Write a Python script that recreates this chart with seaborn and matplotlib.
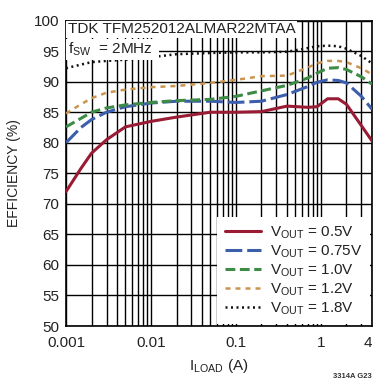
import numpy as np
import pandas as pd
import matplotlib
matplotlib.use("Agg")
import matplotlib.pyplot as plt
import seaborn as sns
from matplotlib.ticker import LogLocator, FixedLocator, FixedFormatter, NullFormatter

# ---- data ----
current = [0.001, 0.0015, 0.002, 0.003, 0.005, 0.01, 0.02, 0.05, 0.1, 0.2,
           0.4, 0.7, 0.9, 1.2, 1.6, 2.0, 3.0, 4.0]
eff_05 = [72.0, 75.8, 78.3, 80.5, 82.6, 83.5, 84.2, 85.0, 85.0, 85.1,
          86.0, 85.8, 85.9, 87.2, 87.2, 86.3, 82.8, 80.3]
eff_075 = [80.0, 82.5, 83.8, 85.0, 85.9, 86.5, 86.8, 86.8, 86.6, 86.8,
           87.9, 89.2, 89.9, 90.3, 90.2, 89.8, 87.6, 85.5]
eff_10 = [82.6, 84.0, 85.0, 85.7, 86.2, 86.6, 86.9, 87.1, 87.6, 88.5,
          89.4, 90.6, 91.4, 92.2, 92.3, 92.0, 90.8, 89.6]
eff_12 = [84.8, 86.3, 87.3, 88.2, 88.7, 89.1, 89.3, 89.8, 90.3, 90.9,
          91.0, 92.3, 93.0, 93.4, 93.4, 93.2, 92.2, 91.2]
eff_18 = [92.2, 92.8, 93.2, 93.4, 93.6, 94.0, 94.5, 94.7, 94.8, 94.8,
          94.9, 95.5, 95.8, 95.9, 95.8, 95.4, 94.2, 93.0]
series_labels = ["0.5V", "0.75V", "1.0V", "1.2V", "1.8V"]
x_ticks = [0.001, 0.01, 0.1, 1, 4]
x_ticklabels = ["0.001", "0.01", "0.1", "1", "4"]
y_ticks = [50, 55, 60, 65, 70, 75, 80, 85, 90, 95, 100]

sns.set_theme(style="white")
plt.rcParams['font.family'] = ['Liberation Sans Narrow', 'Liberation Sans', 'DejaVu Sans']
plt.rcParams['mathtext.fontset'] = 'custom'
plt.rcParams['mathtext.rm'] = 'Liberation Sans Narrow'
plt.rcParams['mathtext.it'] = 'Liberation Sans Narrow'

fig = plt.figure(figsize=(3.74, 3.85), dpi=100)
ax = fig.add_axes([66 / 374, 1 - 326 / 385, (372 - 66) / 374, (326 - 20.6) / 385])

colors = ["#9a1b34", "#3c5eab", "#3d8b46", "#c99550", "#111111"]
styles = ["-", (0, (5.5, 1.6)), (0, (3.2, 1.5)), (0, (2.0, 2.0)), (0, (0.8, 1.4))]
widths = [2.2, 2.2, 2.2, 1.8, 1.8]
all_eff = [eff_05, eff_075, eff_10, eff_12, eff_18]

for lab, vals, c, ls, lw in zip(series_labels, all_eff, colors, styles, widths):
    df = pd.DataFrame({"I": current, "eff": vals})
    sns.lineplot(data=df, x="I", y="eff", ax=ax, color=c, linestyle=ls, linewidth=lw,
                 label=r"V$_{\mathregular{OUT}}$ = " + lab, zorder=3)

ax.set_xscale("log")
ax.set_xlim(0.001, 4)
ax.set_ylim(50, 100)
ax.xaxis.set_major_locator(FixedLocator(x_ticks))
ax.xaxis.set_major_formatter(FixedFormatter(x_ticklabels))
ax.xaxis.set_minor_locator(LogLocator(base=10, subs=np.arange(2, 10)))
ax.xaxis.set_minor_formatter(NullFormatter())
ax.set_yticks(y_ticks)
ax.grid(True, which="both", axis="x", color="black", linewidth=1.0)
ax.grid(True, which="major", axis="y", color="black", linewidth=1.0)
ax.tick_params(axis="both", which="both", length=0, labelsize=11, colors="#222222")
ax.tick_params(axis="x", pad=7)
ax.tick_params(axis="y", pad=5)
for s in ax.spines.values():
    s.set_color("black")
    s.set_linewidth(1.2)

last_tick = ax.xaxis.get_major_ticks()[-1]
last_tick.label1.set_horizontalalignment("right")

ax.set_xlabel(r"I$_{\mathregular{LOAD}}$ (A)", fontsize=11, color="#222222", labelpad=5)
ax.set_ylabel("EFFICIENCY (%)", fontsize=10, color="#222222", labelpad=9)

ax.text(0.006, 0.995, "TDK TFM252012ALMAR22MTAA", transform=ax.transAxes, fontsize=11,
        va="top", ha="left", color="#222222", zorder=5,
        bbox=dict(facecolor="white", edgecolor="none", pad=1.0))
ax.text(0.006, 0.935, r"f$_{\mathregular{SW}}$  = 2MHz  ", transform=ax.transAxes, fontsize=11,
        va="top", ha="left", color="#222222", zorder=5,
        bbox=dict(facecolor="white", edgecolor="none", pad=1.0))

leg = ax.legend(loc="lower right", bbox_to_anchor=(1.0, 0.0), fontsize=11, frameon=True,
                facecolor="white", edgecolor="none", framealpha=1.0, fancybox=False,
                handlelength=2.4, handletextpad=0.6, labelspacing=0.15,
                borderpad=0.5, borderaxespad=0.1)
leg.set_zorder(6)
for t in leg.get_texts():
    t.set_color("#222222")

fig.text(0.995, 0.012, "3314A G23", fontsize=5.5, ha="right", va="bottom", weight="bold",
         color="#333333")

fig.savefig("out.png", dpi=100, facecolor="white")
